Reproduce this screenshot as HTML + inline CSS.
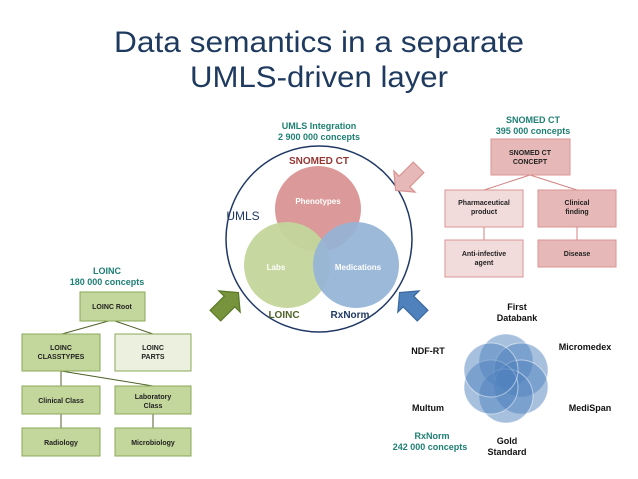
<!DOCTYPE html>
<html><head><meta charset="utf-8"><style>html,body{margin:0;padding:0;background:#fff}svg{display:block}</style></head>
<body>
<svg width="638" height="479" viewBox="0 0 638 479" xmlns="http://www.w3.org/2000/svg" font-family="Liberation Sans, sans-serif">
<text x="319" y="52" font-size="30" fill="#1f3a5f" text-anchor="middle" textLength="410" lengthAdjust="spacingAndGlyphs">Data semantics in a separate</text>
<text x="319" y="87" font-size="30" fill="#1f3a5f" text-anchor="middle" textLength="258" lengthAdjust="spacingAndGlyphs">UMLS-driven layer</text>

<g font-weight="bold" text-anchor="middle">
<text x="319" y="129" font-size="9" fill="#1e7f73">UMLS Integration</text>
<text x="319" y="140" font-size="9" fill="#1e7f73">2 900 000 concepts</text>
</g>
<circle cx="319" cy="239" r="93" fill="#fff" stroke="#1f3864" stroke-width="1.5"/>
<circle cx="318" cy="209" r="43" fill="#d99594" opacity="0.95"/>
<circle cx="287" cy="265" r="43" fill="#c3d69b" opacity="0.95"/>
<circle cx="356" cy="265" r="43" fill="#95b3d7" opacity="0.92"/>
<g font-weight="bold" text-anchor="middle" font-size="8" fill="#fff">
<text x="318" y="204">Phenotypes</text>
<text x="276" y="270">Labs</text>
<text x="358" y="270">Medications</text>
</g>
<text x="319" y="164" font-size="10" font-weight="bold" fill="#953735" text-anchor="middle">SNOMED CT</text>
<text x="243" y="220" font-size="12" fill="#1f3864" text-anchor="middle">UMLS</text>
<text x="284" y="318" font-size="10" font-weight="bold" fill="#4f6228" text-anchor="middle">LOINC</text>
<text x="350" y="318" font-size="10" font-weight="bold" fill="#1f3864" text-anchor="middle">RxNorm</text>

<g transform="translate(408,178) rotate(135) scale(1.25)"><polygon points="-12,-6 4,-6 4,-12 14,0 4,12 4,6 -12,6" fill="#e6b9b8" stroke="#d99594"/></g>
<g transform="translate(226,305) rotate(-45) scale(1.25)"><polygon points="-12,-6 4,-6 4,-12 14,0 4,12 4,6 -12,6" fill="#77933c" stroke="#5a7a2a"/></g>
<g transform="translate(412,305) rotate(-135) scale(1.25)"><polygon points="-12,-6 4,-6 4,-12 14,0 4,12 4,6 -12,6" fill="#4f81bd" stroke="#3a6a9e"/></g>

<g font-weight="bold" text-anchor="middle" fill="#1e7f73" font-size="9">
<text x="107" y="274">LOINC</text>
<text x="107" y="285">180 000 concepts</text>
</g>
<g stroke="#4f6228" stroke-width="1">
<line x1="112" y1="320" x2="62" y2="334"/>
<line x1="112" y1="320" x2="153" y2="334"/>
<line x1="61" y1="371" x2="61" y2="386"/>
<line x1="61" y1="371" x2="153" y2="386"/>
<line x1="61" y1="414" x2="61" y2="428"/>
<line x1="153" y1="414" x2="153" y2="428"/>
</g>
<g stroke="#8aa85a" stroke-width="1">
<rect x="80" y="292" width="65" height="29" fill="#c3d69b"/>
<rect x="22" y="334" width="78" height="37" fill="#c3d69b"/>
<rect x="115" y="334" width="76" height="37" fill="#ebf1de"/>
<rect x="22" y="386" width="78" height="28" fill="#c3d69b"/>
<rect x="115" y="386" width="76" height="28" fill="#c3d69b"/>
<rect x="22" y="428" width="78" height="28" fill="#c3d69b"/>
<rect x="115" y="428" width="76" height="28" fill="#c3d69b"/>
</g>
<g font-weight="bold" text-anchor="middle" fill="#222" font-size="7">
<text x="112" y="309">LOINC Root</text>
<text x="61" y="350">LOINC</text><text x="61" y="359">CLASSTYPES</text>
<text x="153" y="350">LOINC</text><text x="153" y="359">PARTS</text>
<text x="61" y="403">Clinical Class</text>
<text x="153" y="399">Laboratory</text><text x="153" y="408">Class</text>
<text x="61" y="445">Radiology</text>
<text x="153" y="445">Microbiology</text>
</g>

<g font-weight="bold" text-anchor="middle" fill="#1e7f73" font-size="9">
<text x="533" y="123">SNOMED CT</text>
<text x="533" y="134">395 000 concepts</text>
</g>
<g stroke="#c0504d" stroke-width="1" opacity="0.7">
<line x1="530" y1="175" x2="484" y2="190"/>
<line x1="530" y1="175" x2="577" y2="190"/>
<line x1="484" y1="227" x2="484" y2="240"/>
<line x1="577" y1="227" x2="577" y2="240"/>
</g>
<g stroke="#d99594" stroke-width="1">
<rect x="491" y="139" width="79" height="36" fill="#e6b9b8"/>
<rect x="445" y="190" width="78" height="37" fill="#f2dcdb"/>
<rect x="538" y="190" width="78" height="37" fill="#e6b9b8"/>
<rect x="445" y="240" width="78" height="37" fill="#f2dcdb"/>
<rect x="538" y="240" width="78" height="27" fill="#e6b9b8"/>
</g>
<g font-weight="bold" text-anchor="middle" fill="#222" font-size="7">
<text x="530" y="155">SNOMED CT</text><text x="530" y="164">CONCEPT</text>
<text x="484" y="205">Pharmaceutical</text><text x="484" y="214">product</text>
<text x="577" y="205">Clinical</text><text x="577" y="214">finding</text>
<text x="484" y="256">Anti-infective</text><text x="484" y="265">agent</text>
<text x="577" y="256">Disease</text>
</g>

<g fill="#4f81bd" fill-opacity="0.5" stroke="#fff" stroke-opacity="0.5" stroke-width="1">
<circle cx="506" cy="361" r="27"/>
<circle cx="521" cy="370" r="27"/>
<circle cx="521" cy="387" r="27"/>
<circle cx="506" cy="396" r="27"/>
<circle cx="491" cy="387" r="27"/>
<circle cx="491" cy="370" r="27"/>
</g>
<g font-weight="bold" text-anchor="middle" fill="#111" font-size="9">
<text x="517" y="310">First</text><text x="517" y="321">Databank</text>
<text x="585" y="350">Micromedex</text>
<text x="428" y="354">NDF-RT</text>
<text x="590" y="411">MediSpan</text>
<text x="428" y="411">Multum</text>
<text x="507" y="444">Gold</text><text x="507" y="455">Standard</text>
</g>
<g font-weight="bold" text-anchor="middle" fill="#1e7f73" font-size="9">
<text x="432" y="439">RxNorm</text>
<text x="430" y="450">242 000 concepts</text>
</g>
</svg>
</body></html>
